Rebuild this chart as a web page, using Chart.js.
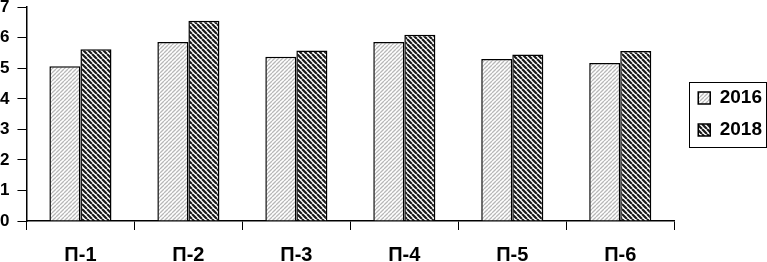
<!DOCTYPE html>
<html>
<head>
<meta charset="utf-8">
<script src="https://cdn.jsdelivr.net/npm/chart.js@4.4.1/dist/chart.umd.min.js"></script>
<style>
  html, body { margin: 0; padding: 0; background: #fff; overflow: hidden; }
  #wrap { position: absolute; left: -8px; top: -11px; width: 780px; height: 291px; }
</style>
</head>
<body>
<div id="wrap"><canvas id="chart"></canvas></div>
<script>
var categories = ['П-1', 'П-2', 'П-3', 'П-4', 'П-5', 'П-6'];
var values2016 = [5.07, 5.86, 5.38, 5.86, 5.30, 5.17];
var values2018 = [5.62, 6.56, 5.58, 6.10, 5.45, 5.57];
var seriesLabels = ['2016', '2018'];

// diagonal hatch fill for the bars
function hatch(size, color, width, forward) {
  var c = document.createElement('canvas');
  c.width = size; c.height = size;
  var ctx = c.getContext('2d');
  ctx.fillStyle = '#fff';
  ctx.fillRect(0, 0, size, size);
  ctx.strokeStyle = color;
  ctx.lineWidth = width;
  ctx.beginPath();
  for (var k = -1; k <= 1; k++) {
    if (forward) {
      ctx.moveTo(k * size, size);
      ctx.lineTo(k * size + size, 0);
    } else {
      ctx.moveTo(k * size, 0);
      ctx.lineTo(k * size + size, size);
    }
  }
  ctx.stroke();
  return ctx.createPattern(c, 'repeat');
}

var lightHatch = hatch(4, '#b8b8b8', 1.3, true);
var darkHatch = hatch(5, '#1a1a1a', 2.2, false);

var legendFrame = {
  id: 'legendFrame',
  afterDraw: function (chart) {
    var boxes = chart.legend.legendHitBoxes;
    if (!boxes || !boxes.length) return;
    var x0 = Infinity, y0 = Infinity, x1 = -Infinity, y1 = -Infinity;
    boxes.forEach(function (b) {
      x0 = Math.min(x0, b.left); y0 = Math.min(y0, b.top);
      x1 = Math.max(x1, b.left + b.width); y1 = Math.max(y1, b.top + b.height);
    });
    var ctx = chart.ctx;
    ctx.save();
    ctx.strokeStyle = '#000';
    ctx.lineWidth = 1;
    var left = Math.round(x0 - 9), top = Math.round(y0 - 7);
    ctx.strokeRect(left + 0.5, top + 0.5, Math.round(x1 + 4) - left, Math.round(y1 + 7) - top);
    ctx.restore();
  }
};

Chart.defaults.font.family = '"Liberation Sans", Arial, sans-serif';
Chart.defaults.font.weight = 'bold';
Chart.defaults.color = '#000';

new Chart(document.getElementById('chart'), {
  type: 'bar',
  data: {
    labels: categories,
    datasets: [{
      label: seriesLabels[0],
      data: values2016,
      backgroundColor: lightHatch,
      borderColor: '#000',
      borderWidth: 1.5
    }, {
      label: seriesLabels[1],
      data: values2018,
      backgroundColor: darkHatch,
      borderColor: '#000',
      borderWidth: 1.5
    }]
  },
  options: {
    responsive: true,
    maintainAspectRatio: false,
    animation: false,
    layout: { padding: 0 },
    datasets: { bar: { categoryPercentage: 0.575, barPercentage: 1 } },
    scales: {
      x: {
        grid: { drawOnChartArea: false, color: '#000', tickLength: 9, offset: true },
        border: { color: '#000', width: 1.5 },
        ticks: { font: { size: 20, weight: 'bold' }, padding: 13 }
      },
      y: {
        min: 0,
        max: 7,
        grid: { drawOnChartArea: false, color: '#000', tickLength: 9 },
        border: { color: '#000', width: 1.5 },
        ticks: { stepSize: 1, font: { size: 17, weight: 'bold' }, padding: 8 }
      },
      // empty spacer between the plot and the legend
      gap: {
        axis: 'y',
        position: 'right',
        grid: { display: false },
        border: { display: false },
        ticks: { display: false },
        afterFit: function (scale) { scale.width = 11; }
      }
    },
    plugins: {
      tooltip: { enabled: false },
      legend: {
        position: 'right',
        fullSize: false,
        labels: {
          boxWidth: 12,
          boxHeight: 12,
          padding: 13,
          font: { size: 19, weight: 'bold' },
          color: '#000'
        }
      }
    }
  },
  plugins: [legendFrame]
});
</script>
</body>
</html>
